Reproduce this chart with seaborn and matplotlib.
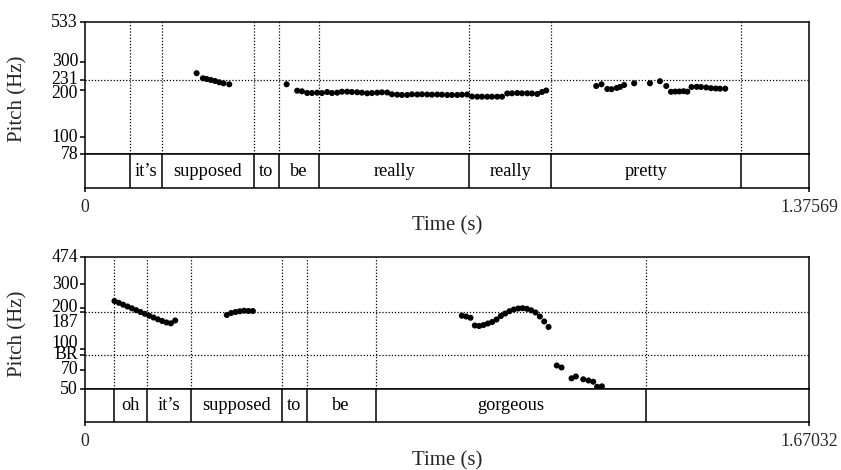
import numpy as np
import pandas as pd
import matplotlib
matplotlib.use("Agg")
import matplotlib.pyplot as plt
import matplotlib.transforms as mtransforms
import seaborn as sns

# ---------------- data ----------------
# top panel
top_tmax = 1.37569
top_ylim = [78, 533]
top_bounds = [0.0855, 0.1457, 0.321, 0.3685, 0.445, 0.730, 0.8857, 1.2466]
top_words = ["", "it’s", "supposed", "to", "be", "really", "really", "pretty", ""]
top_yticks = [533, 300, 231, 200, 100, 78]
top_yticklabels = ["533", "300", "231", "200", "100", "78"]
top_reflines = [231]
top_time = [0.212, 0.224, 0.231, 0.239, 0.247, 0.255, 0.263, 0.274,
            0.383,
            0.403, 0.412, 0.422, 0.431, 0.441, 0.450, 0.460, 0.469, 0.479, 0.488,
            0.498, 0.507, 0.517, 0.526, 0.536, 0.545, 0.555, 0.564, 0.574, 0.583,
            0.593, 0.602, 0.612, 0.621, 0.631, 0.640, 0.650, 0.659, 0.669, 0.678,
            0.688, 0.697, 0.707, 0.716, 0.726, 0.735, 0.745, 0.754, 0.764, 0.773,
            0.783, 0.792, 0.802, 0.811, 0.821, 0.830, 0.840, 0.849, 0.859, 0.868,
            0.876,
            0.971, 0.981, 0.992, 1.000, 1.010, 1.016, 1.024, 1.043, 1.073, 1.092,
            1.104, 1.113, 1.121, 1.129, 1.137, 1.144, 1.152, 1.162, 1.170, 1.180,
            1.189, 1.198, 1.206, 1.216]
top_pitch = [254.0, 235.9, 233.5, 230.1, 226.8, 222.6, 219.3, 216.1,
             216.1,
             196.9, 195.2, 190.4, 190.4, 191.3, 190.4, 193.2, 190.4, 191.3, 194.1,
             194.1, 193.2, 192.4, 191.3, 189.6, 190.4, 191.3, 192.4, 191.8, 186.9,
             185.8, 185.0, 185.0, 186.9, 186.3, 186.9, 186.3, 185.8, 186.3, 185.8,
             185.0, 185.0, 185.0, 185.8, 186.3, 181.0, 180.4, 180.4, 180.4, 180.4,
             180.4, 180.4, 189.1, 189.6, 190.4, 189.6, 189.6, 189.1, 187.7, 193.2,
             197.5,
             210.8, 216.1, 201.9, 201.3, 204.9, 207.8, 213.9, 219.3, 219.3, 226.1,
             210.8, 193.8, 194.4, 194.7, 195.5, 194.1, 207.8, 208.4, 207.8, 206.3,
             204.2, 203.3, 202.8, 202.8]

# bottom panel
bot_tmax = 1.67032
bot_ylim = [50, 474]
bot_bounds = [0.0676, 0.1423, 0.2451, 0.4536, 0.5113, 0.6704, 1.2937]
bot_words = ["", "oh", "it’s", "supposed", "to", "be", "gorgeous", ""]
bot_yticks = [474, 300, 200, 187, 100, 89.7, 70, 50]
bot_yticklabels = ["474", "300", "200", "187", "100", "BR", "70", "50"]
bot_reflines = [187, 89.7]
bot_time = [0.068, 0.078, 0.088, 0.098, 0.108, 0.118, 0.128, 0.138, 0.148, 0.158,
            0.168, 0.178, 0.188, 0.198, 0.208,
            0.327, 0.337, 0.347, 0.357, 0.367, 0.377, 0.387,
            0.869, 0.879, 0.889, 0.899, 0.909, 0.919, 0.929, 0.939, 0.949, 0.959,
            0.969, 0.979, 0.989, 0.999, 1.009, 1.019, 1.029, 1.039, 1.049, 1.059,
            1.069,
            1.088, 1.099, 1.122, 1.132, 1.149, 1.161, 1.172, 1.181, 1.192]
bot_pitch = [225.1, 218.3, 211.4, 205.0, 198.8, 192.5, 186.6, 181.0, 175.2, 169.9,
             164.8, 160.1, 156.1, 153.9, 161.5,
             177.3, 183.5, 186.6, 188.9, 190.8, 189.8, 189.8,
             175.2, 172.9, 169.1, 148.3, 147.0, 149.5, 153.4, 157.4, 164.3, 174.3,
             181.9, 189.2, 194.8, 198.1, 199.1, 197.1, 192.1, 185.1, 172.9, 158.8,
             144.6,
             75.0, 72.5, 60.3, 62.2, 59.3, 58.1, 56.9, 52.2, 52.6]

# ---------------- style ----------------
sns.set_style("white")
plt.rcParams["font.family"] = ["Liberation Serif", "DejaVu Serif"]

W, H = 841, 470
fig = plt.figure(figsize=(W / 100, H / 100), dpi=100)

def fx(px):
    return px / W

def fy(py):
    return 1 - py / H

FRAME_LW = 1.1
DOT_LS = (0, (1.0, 1.5))
TICK_FS = 12.8
WORD_FS = 13.2
LABEL_FS = 15

label_shift = {("top", "200"): -3.0, ("bot", "187"): -7.5, ("bot", "100"): 4.0}


def panel(name, left, right, ptop, pbot, tbot, tmax, ylim, bounds, words,
          yticks, yticklabels, reflines, times, pitch, label_y, ylabel_y):
    axp = fig.add_axes([fx(left), fy(pbot), fx(right) - fx(left), fy(ptop) - fy(pbot)])
    axt = fig.add_axes([fx(left), fy(tbot), fx(right) - fx(left), fy(pbot) - fy(tbot)])

    df = pd.DataFrame({"time": times, "pitch": pitch})
    sns.scatterplot(data=df, x="time", y="pitch", ax=axp, color="black",
                    s=19, linewidth=0, edgecolor="none", zorder=5)
    axp.set_yscale("log")
    axp.set_xlim(0, tmax)
    axp.set_ylim(*ylim)
    axp.minorticks_off()
    axp.set_xticks([])
    axp.set_yticks(yticks)
    axp.set_yticklabels([""] * len(yticks))
    axp.tick_params(axis="y", direction="out", length=3.6, width=FRAME_LW, left=True,
                    color="black")
    axp.set_xlabel("")
    axp.set_ylabel("")
    for b in bounds:
        axp.axvline(b, color="black", lw=0.9, ls=DOT_LS, zorder=1)
    for r in reflines:
        axp.axhline(r, color="black", lw=0.9, ls=DOT_LS, zorder=1)
    tr = axp.get_yaxis_transform()
    for v, lab in zip(yticks, yticklabels):
        dy = label_shift.get((name, lab), 0.0)
        off = mtransforms.ScaledTranslation(-5.0 / 72, dy / 72, fig.dpi_scale_trans)
        axp.text(0, v, lab, transform=tr + off, ha="right", va="center",
                 fontsize=TICK_FS, color="black")

    # tier
    axt.set_xlim(0, tmax)
    axt.set_ylim(0, 1)
    axt.set_yticks([])
    edges = [0.0] + list(bounds) + [tmax]
    for b in bounds:
        axt.axvline(b, color="black", lw=FRAME_LW)
    for i, w in enumerate(words):
        if w:
            axt.text((edges[i] + edges[i + 1]) / 2, 0.5, w, ha="center", va="center",
                     fontsize=WORD_FS, color="black")
    axt.set_xticks([0, tmax])
    axt.set_xticklabels(["0", f"{tmax:.5f}"])
    axt.tick_params(axis="x", direction="out", length=3, width=FRAME_LW, pad=5,
                    labelsize=TICK_FS, bottom=True, color="black")

    for ax in (axp, axt):
        for sp in ax.spines.values():
            sp.set_visible(True)
            sp.set_color("black")
            sp.set_linewidth(FRAME_LW)

    fig.text(fx((left + right) / 2), fy(label_y), "Time (s)", ha="center", va="center",
             fontsize=LABEL_FS)
    fig.text(fx(18), fy(ylabel_y), "Pitch (Hz)", ha="center", va="center",
             rotation=90, fontsize=LABEL_FS)


panel("top", 85, 809.3, 22.3, 154.3, 187.7, top_tmax, top_ylim, top_bounds, top_words,
      top_yticks, top_yticklabels, top_reflines, top_time, top_pitch, 226, 99)
panel("bot", 85, 809.3, 257.3, 389.3, 422.3, bot_tmax, bot_ylim, bot_bounds, bot_words,
      bot_yticks, bot_yticklabels, bot_reflines, bot_time, bot_pitch, 461, 334)

fig.savefig("out.png", dpi=100)
